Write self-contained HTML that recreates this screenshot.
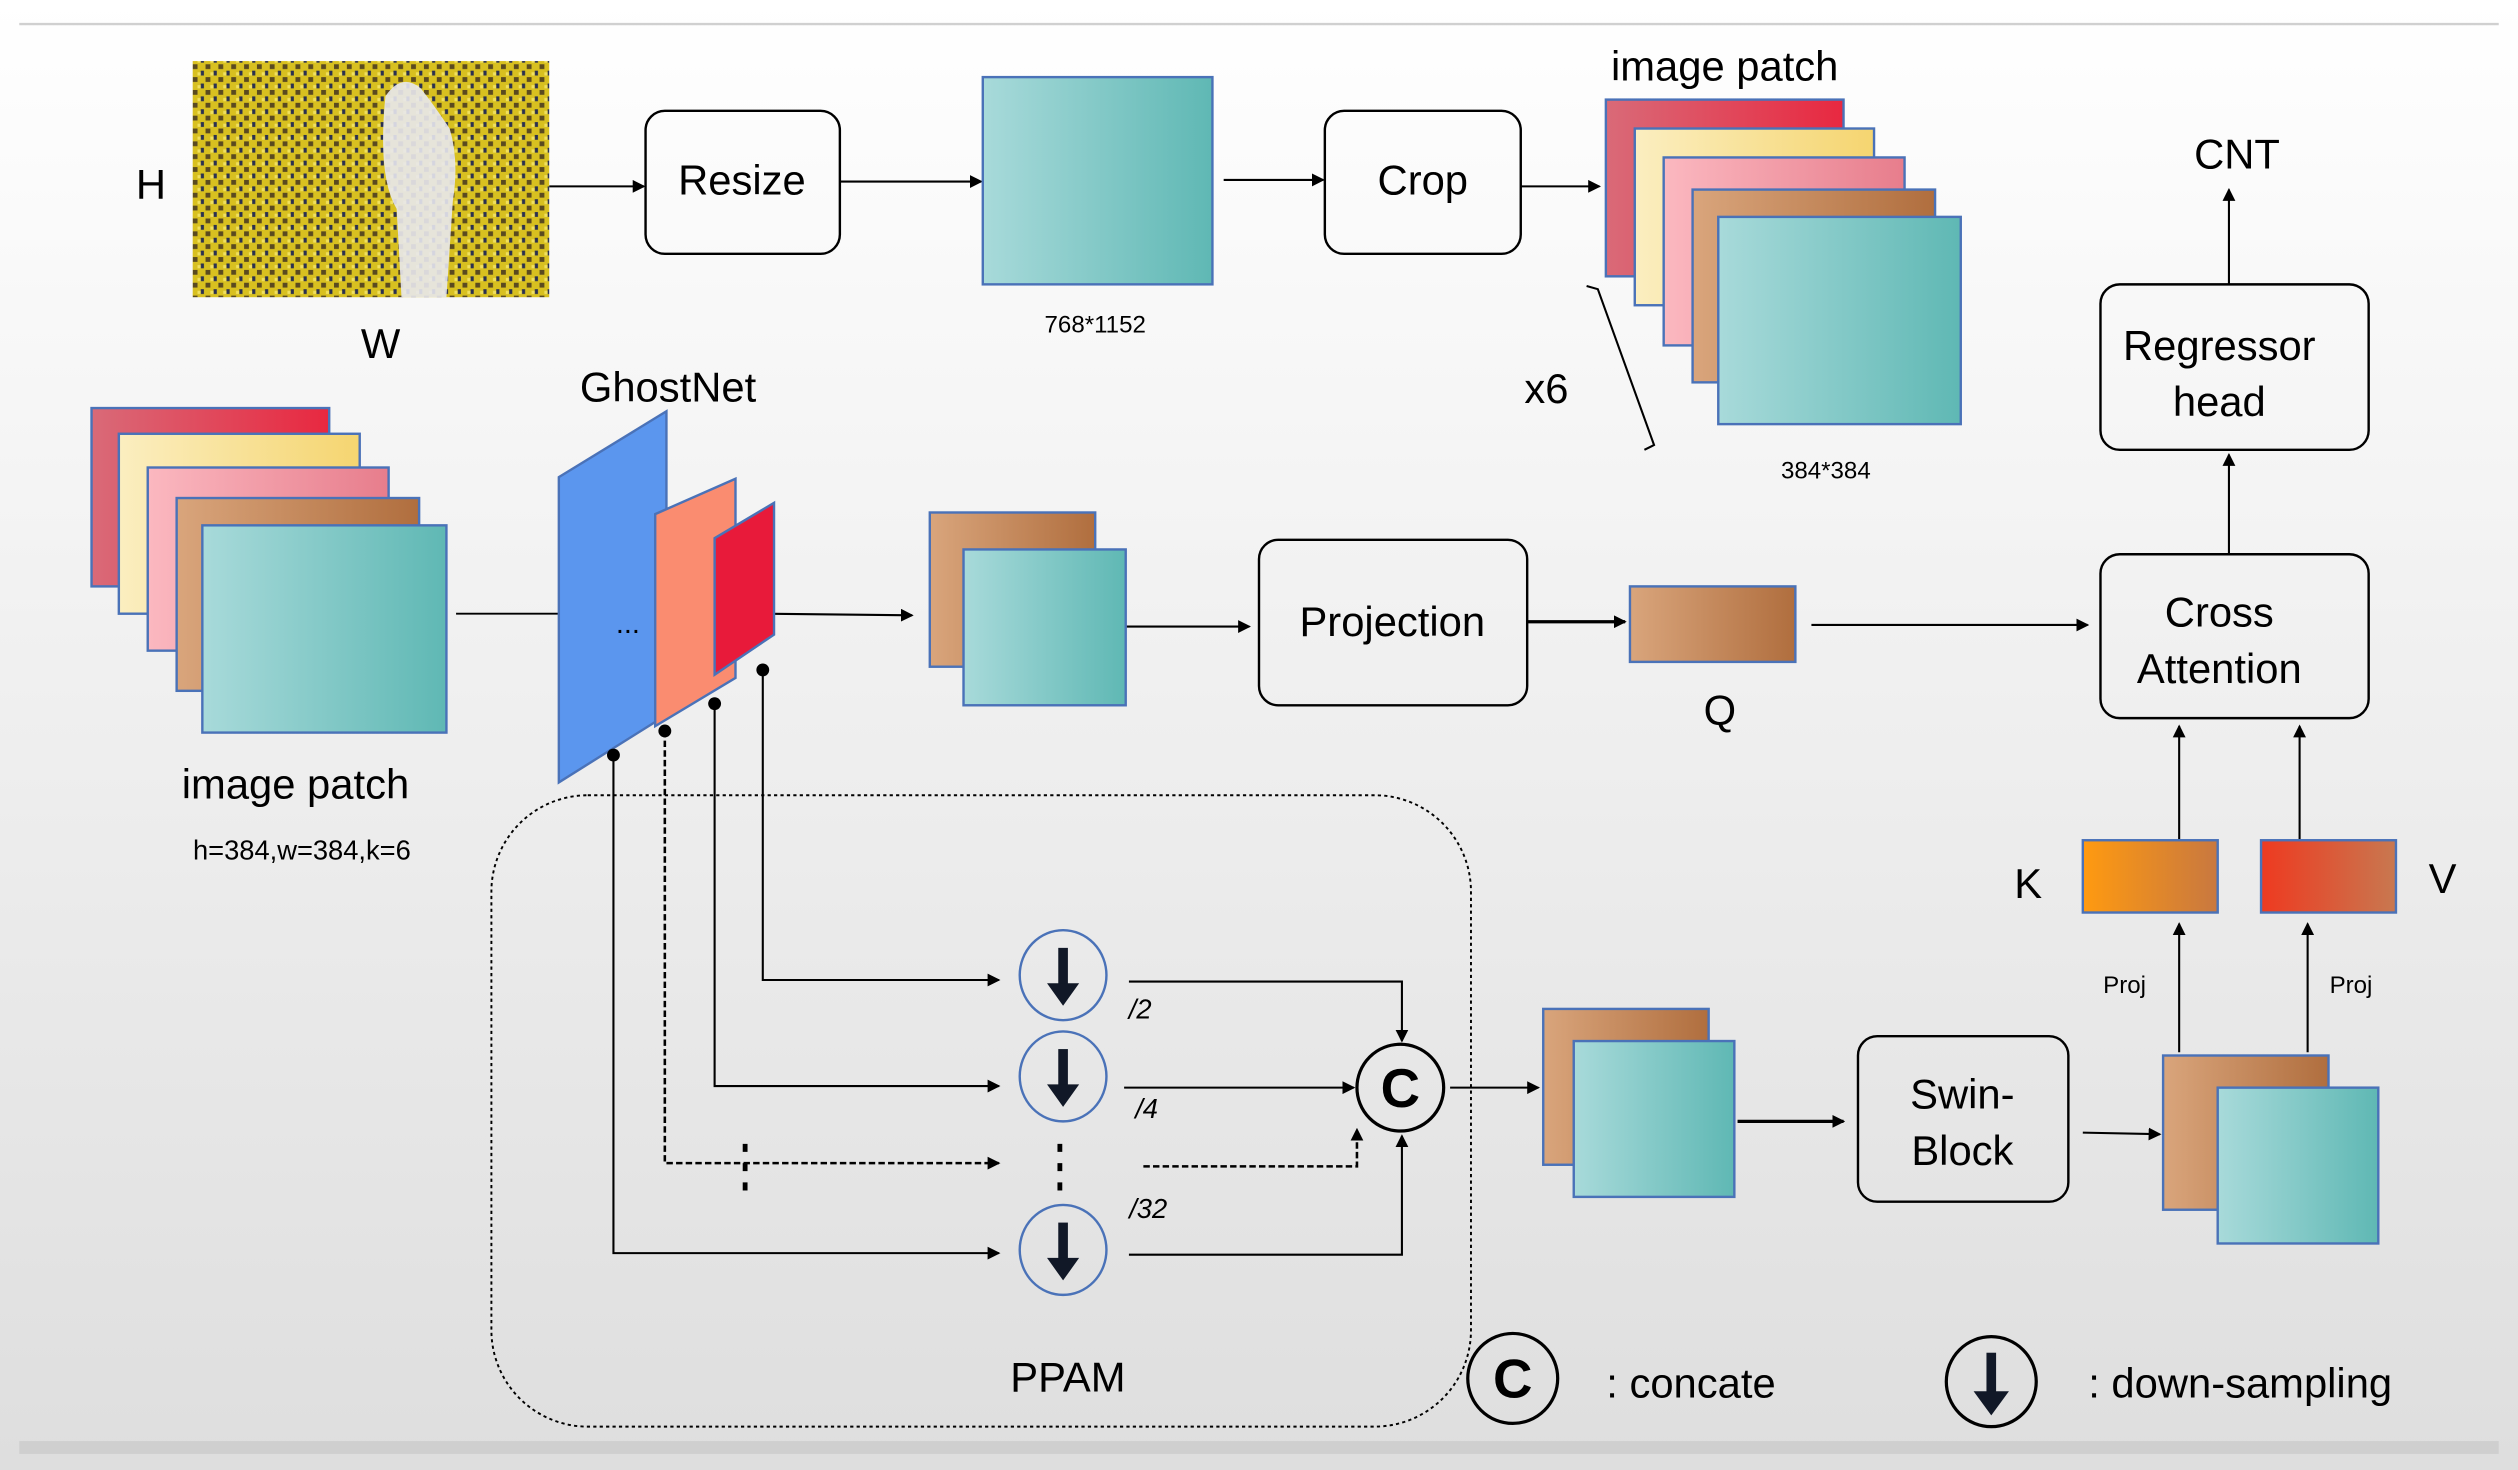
<!DOCTYPE html>
<html><head><meta charset="utf-8"><style>
html,body{margin:0;padding:0;width:2518px;height:1470px;overflow:hidden;background:#fff}
svg{display:block}
text{font-family:"Liberation Sans",sans-serif;fill:#000}
</style></head><body>
<svg width="2518" height="1470" viewBox="0 0 1568 915" preserveAspectRatio="none" xmlns="http://www.w3.org/2000/svg">
<defs>
<linearGradient id="bg" x1="0" y1="0" x2="0" y2="1"><stop offset="0" stop-color="#ffffff"/><stop offset="1" stop-color="#dedede"/></linearGradient>
<linearGradient id="teal" x1="0" y1="0" x2="1" y2="0"><stop offset="0" stop-color="#a8dada"/><stop offset="1" stop-color="#5fb8b4"/></linearGradient>
<linearGradient id="red" x1="0" y1="0" x2="1" y2="0"><stop offset="0" stop-color="#d96a78"/><stop offset="1" stop-color="#e82840"/></linearGradient>
<linearGradient id="yel" x1="0" y1="0" x2="1" y2="0"><stop offset="0" stop-color="#fbeec0"/><stop offset="1" stop-color="#f5d570"/></linearGradient>
<linearGradient id="pink" x1="0" y1="0" x2="1" y2="0"><stop offset="0" stop-color="#fbb8c0"/><stop offset="1" stop-color="#e77d8c"/></linearGradient>
<linearGradient id="brown" x1="0" y1="0" x2="1" y2="0"><stop offset="0" stop-color="#d9a57c"/><stop offset="1" stop-color="#b06e3e"/></linearGradient>
<linearGradient id="org" x1="0" y1="0" x2="1" y2="0"><stop offset="0" stop-color="#ff9a10"/><stop offset="1" stop-color="#c87840"/></linearGradient>
<linearGradient id="rv" x1="0" y1="0" x2="1" y2="0"><stop offset="0" stop-color="#ee3a20"/><stop offset="1" stop-color="#c87850"/></linearGradient>
<pattern id="crowd" width="8" height="8" patternUnits="userSpaceOnUse"><rect width="8" height="8" fill="#d8c020"/><rect x="0" y="0" width="3" height="3" fill="#5a4a20"/><rect x="5" y="4" width="2" height="3" fill="#2a3050"/><rect x="3" y="5" width="2" height="2" fill="#f0e060"/></pattern>
<marker id="ar" markerWidth="8" markerHeight="8" refX="7" refY="4" orient="auto" markerUnits="userSpaceOnUse"><path d="M0,0 L8,4 L0,8 z" fill="#000"/></marker>
</defs>
<rect width="1568" height="915" fill="url(#bg)"/>
<line x1="12" y1="15" x2="1556" y2="15" stroke="#d0d0d0" stroke-width="1.5"/>
<rect x="12" y="897" width="1544" height="8" fill="#cfcfcf"/>

<g stroke="#000" stroke-width="1.3" fill="none" marker-end="url(#ar)">
<line x1="342" y1="116" x2="401" y2="116"/>
<line x1="523" y1="113" x2="611" y2="113"/>
<line x1="762" y1="112" x2="824" y2="112"/>
<line x1="947" y1="116" x2="996" y2="116"/>
<line x1="1388" y1="177" x2="1388" y2="118"/>
<line x1="1388" y1="345" x2="1388" y2="283"/>
<line x1="475" y1="382" x2="568" y2="383"/>
<line x1="701" y1="390" x2="778" y2="390"/>
<line x1="951" y1="387" x2="1012" y2="387" stroke-width="2"/>
<line x1="1128" y1="389" x2="1300" y2="389"/>
<line x1="1357" y1="523" x2="1357" y2="452"/>
<line x1="1432" y1="523" x2="1432" y2="452"/>
<line x1="1357" y1="655" x2="1357" y2="575"/>
<line x1="1437" y1="655" x2="1437" y2="575"/>
<line x1="1297" y1="705" x2="1345" y2="706"/>
<line x1="1082" y1="698" x2="1148" y2="698" stroke-width="2"/>
<line x1="903" y1="677" x2="958" y2="677"/>
<polyline points="475,417 475,610 622,610"/>
<polyline points="445,438 445,676 622,676"/>
<polyline points="414,455 414,724 622,724" stroke-dasharray="4,2" stroke-width="1.6"/>
<polyline points="382,470 382,780 622,780"/>
<polyline points="703,611 873,611 873,648"/>
<polyline points="700,677 843,677"/>
<polyline points="712,726 845,726 845,703" stroke-dasharray="4,2" stroke-width="1.6"/>
<polyline points="703,781 873,781 873,707"/>
</g>
<line x1="284" y1="382" x2="348" y2="382" stroke="#000" stroke-width="1.2"/>
<polyline points="988,178 995,180 1030,277 1024,280" fill="none" stroke="#000" stroke-width="1.3"/>
<g stroke="#000" stroke-width="3" stroke-dasharray="5,7"><line x1="464" y1="712" x2="464" y2="742"/><line x1="660" y1="712" x2="660" y2="742"/></g>

<!-- photo -->
<rect x="120" y="38" width="222" height="147" fill="url(#crowd)"/>
<path d="M240,60 q10,-15 22,-5 q8,10 18,25 q6,20 2,45 l-4,60 l-28,0 l-3,-55 q-12,-20 -7,-70z" fill="#e8e8ee" opacity="0.9"/>

<!-- boxes -->
<g fill="#fff" fill-opacity="0" stroke="#000" stroke-width="1.5">
<rect x="402" y="69" width="121" height="89" rx="12"/>
<rect x="825" y="69" width="122" height="89" rx="12"/>
<rect x="1308" y="177" width="167" height="103" rx="12"/>
<rect x="1308" y="345" width="167" height="102" rx="12"/>
<rect x="784" y="336" width="167" height="103" rx="12"/>
<rect x="1157" y="645" width="131" height="103" rx="12"/>
<rect x="306" y="495" width="610" height="393" rx="60" stroke-dasharray="2,2" stroke-width="1.2"/>
</g>

<g stroke="#4a72b8" stroke-width="1.5">
<rect x="612" y="48" width="143" height="129" fill="url(#teal)"/>
<rect x="1000" y="62" width="148" height="110" fill="url(#red)"/>
<rect x="1018" y="80" width="149" height="110" fill="url(#yel)"/>
<rect x="1036" y="98" width="150" height="117" fill="url(#pink)"/>
<rect x="1054" y="118" width="151" height="120" fill="url(#brown)"/>
<rect x="1070" y="135" width="151" height="129" fill="url(#teal)"/>
<rect x="57" y="254" width="148" height="111" fill="url(#red)"/>
<rect x="74" y="270" width="150" height="112" fill="url(#yel)"/>
<rect x="92" y="291" width="150" height="114" fill="url(#pink)"/>
<rect x="110" y="310" width="151" height="120" fill="url(#brown)"/>
<rect x="126" y="327" width="152" height="129" fill="url(#teal)"/>
<rect x="579" y="319" width="103" height="96" fill="url(#brown)"/>
<rect x="600" y="342" width="101" height="97" fill="url(#teal)"/>
<rect x="1015" y="365" width="103" height="47" fill="url(#brown)"/>
<rect x="1297" y="523" width="84" height="45" fill="url(#org)"/>
<rect x="1408" y="523" width="84" height="45" fill="url(#rv)"/>
<rect x="961" y="628" width="103" height="97" fill="url(#brown)"/>
<rect x="980" y="648" width="100" height="97" fill="url(#teal)"/>
<rect x="1347" y="657" width="103" height="96" fill="url(#brown)"/>
<rect x="1381" y="677" width="100" height="97" fill="url(#teal)"/>
<polygon points="348,297 415,256 415,445 348,487" fill="#5b96ee"/>
<polygon points="408,320 458,298 458,422 408,452" fill="#fa8c70"/>
<polygon points="445,335 482,313 482,395 445,420" fill="#e81a3a"/>
</g>
<g fill="#000"><circle cx="382" cy="470" r="4"/><circle cx="414" cy="455" r="4"/><circle cx="445" cy="438" r="4"/><circle cx="475" cy="417" r="4"/></g>

<!-- circles -->
<g fill="none" stroke="#4a72b8" stroke-width="1.5"><ellipse cx="662" cy="607" rx="27" ry="28"/><ellipse cx="662" cy="670" rx="27" ry="28"/><ellipse cx="662" cy="778" rx="27" ry="28"/></g>
<g fill="none" stroke="#000" stroke-width="2"><circle cx="872" cy="677" r="27"/><circle cx="942" cy="858" r="28"/><circle cx="1240" cy="860" r="28"/></g>
<g fill="#111827">
<rect x="659" y="590" width="6" height="24"/><polygon points="652,612 672,612 662,626"/>
<rect x="659" y="653" width="6" height="24"/><polygon points="652,675 672,675 662,689"/>
<rect x="659" y="761" width="6" height="24"/><polygon points="652,783 672,783 662,797"/>
<rect x="1237" y="842" width="6" height="26"/><polygon points="1229,866 1251,866 1240,881"/>
</g>

<g font-size="26" text-anchor="middle">
<text x="94" y="124">H</text>
<text x="237" y="223">W</text>
<text x="462" y="121">Resize</text>
<text x="886" y="121">Crop</text>
<text x="1074" y="50">image patch</text>
<text x="1393" y="105">CNT</text>
<text x="1382" y="224">Regressor</text>
<text x="1382" y="259">head</text>
<text x="1382" y="390">Cross</text>
<text x="1382" y="425">Attention</text>
<text x="963" y="251">x6</text>
<text x="416" y="250">GhostNet</text>
<text x="184" y="497">image patch</text>
<text x="867" y="396">Projection</text>
<text x="1071" y="451">Q</text>
<text x="1263" y="559">K</text>
<text x="1521" y="556">V</text>
<text x="1222" y="690">Swin-</text>
<text x="1222" y="725">Block</text>
<text x="665" y="866">PPAM</text>
<text x="1053" y="870">: concate</text>
<text x="1395" y="870">: down-sampling</text>
</g>
<g font-size="15" text-anchor="middle">
<text x="682" y="207">768*1152</text>
<text x="1137" y="298">384*384</text>
<text x="188" y="535" font-size="17">h=384,w=384,k=6</text>
<text x="1323" y="618">Proj</text>
<text x="1464" y="618">Proj</text>
<text x="710" y="634" font-size="17" font-style="italic">/2</text>
<text x="714" y="696" font-size="17" font-style="italic">/4</text>
<text x="715" y="758" font-size="17" font-style="italic">/32</text>
<text x="391" y="394" font-size="18">...</text>
</g>
<g font-size="34" font-weight="bold" text-anchor="middle"><text x="872" y="689">C</text><text x="942" y="870">C</text></g>
</svg>
</body></html>
